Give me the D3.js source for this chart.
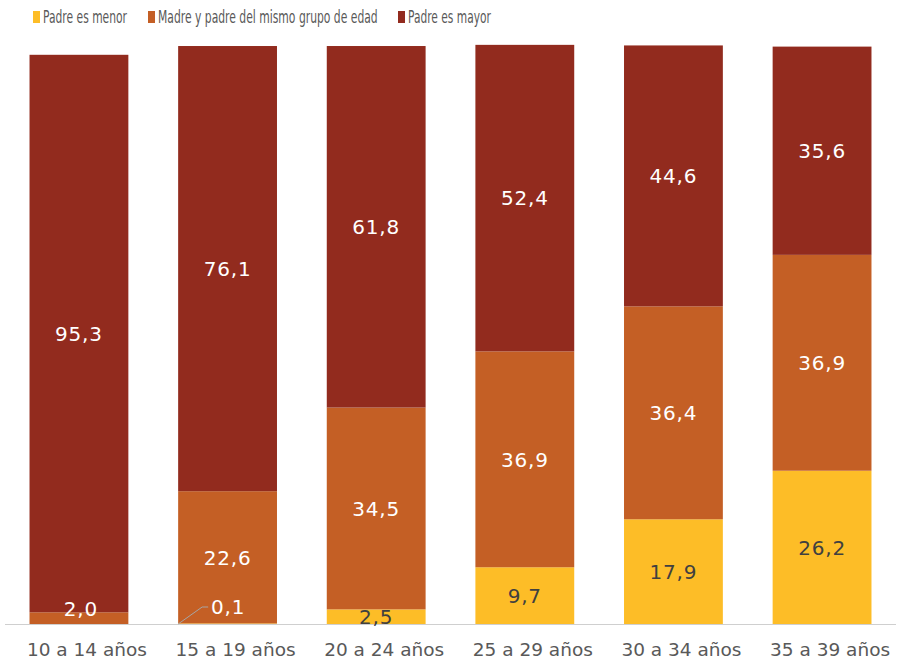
<!DOCTYPE html>
<html><head><meta charset="utf-8">
<script src="https://cdn.jsdelivr.net/npm/d3@7/dist/d3.min.js"></script>
<style>body{margin:0;background:#fff}svg{display:block}</style>
</head><body>
<svg id="c" width="898" height="662"></svg>
<script>
const categories = ["10 a 14 años","15 a 19 años","20 a 24 años","25 a 29 años","30 a 34 años","35 a 39 años"];
const seriesNames = ["Padre es menor","Madre y padre del mismo grupo de edad","Padre es mayor"];
const padreMenor = [0, 0.1, 2.5, 9.7, 17.9, 26.2];
const mismoGrupo = [2.0, 22.6, 34.5, 36.9, 36.4, 36.9];
const padreMayor = [95.3, 76.1, 61.8, 52.4, 44.6, 35.6];
const colors = ["#FDBD27", "#C45F25", "#922B1E"];
const labelColors = ["#404040", "#ffffff", "#ffffff"];

const FONT = "'DejaVu Sans', sans-serif";
const svg = d3.select("#c");
const x = d3.scaleBand().domain(categories).range([5, 896]).paddingInner(0.335).paddingOuter(0.165);
const y = d3.scaleLinear().domain([0, 100]).range([624, 39]);

const rows = categories.map((c, i) => ({cat: c, s0: padreMenor[i], s1: mismoGrupo[i], s2: padreMayor[i]}));
const stack = d3.stack().keys(["s0","s1","s2"])(rows);

const g = svg.append("g");
stack.forEach((layer, li) => {
  g.selectAll(null).data(layer).enter().append("rect")
    .attr("x", d => x(d.data.cat))
    .attr("width", x.bandwidth())
    .attr("y", d => y(d[1]))
    .attr("height", d => Math.max(0, y(d[0]) - y(d[1])))
    .attr("fill", colors[li]);
});

// axis line
svg.append("line").attr("x1", 5).attr("x2", 896).attr("y1", y(0)+0.5).attr("y2", y(0)+0.5)
  .attr("stroke", "#cfcfcf").attr("stroke-width", 1);

// category labels
const xAxis = svg.append("g").attr("transform", `translate(8,${y(0)})`)
  .call(d3.axisBottom(x).tickSize(0).tickPadding(19));
xAxis.select(".domain").remove();
xAxis.selectAll("text").attr("font-family", FONT).attr("font-size", 18.5).attr("fill", "#595959");

// data labels
const fmt = v => v.toFixed(1).replace(".", ",");
stack.forEach((layer, li) => {
  layer.forEach((d, i) => {
    const v = d.data["s" + li];
    if (v <= 0) return;
    let cx = x(d.data.cat) + x.bandwidth() / 2;
    let cy = (y(d[0]) + y(d[1])) / 2;
    let col = labelColors[li];
    if (li === 1 && i === 0) { cy = y(d[1]) - 4; cx += 2; }
    if (li === 0 && i === 1) {
      col = "#ffffff";
      const x0 = x(d.data.cat);
      const ly = y(0) - 17;
      svg.append("path")
        .attr("d", `M${x0},${y(0)}L${x0 + 24},${ly}L${x0 + 30},${ly}`)
        .attr("fill", "none").attr("stroke", "#a6a6a6").attr("stroke-width", 1);
      cx = x0 + 50; cy = ly;
    }
    svg.append("text").attr("x", cx).attr("y", cy).attr("dy", "0.36em")
      .attr("text-anchor", "middle").attr("font-family", FONT).attr("font-size", 20)
      .attr("letter-spacing", 0.8)
      .attr("fill", col).text(fmt(v));
  });
});

// legend
const legX = [33, 148, 398];
const legW = [84, 220, 83];
seriesNames.forEach((n, i) => {
  svg.append("rect").attr("x", legX[i]).attr("y", 11).attr("width", 7).attr("height", 12).attr("fill", colors[i]);
  const t = svg.append("text").attr("x", 0).attr("y", 0).attr("dy", "0.36em")
    .attr("font-family", FONT).attr("font-size", 17).attr("fill", "#595959").text(n);
  const w = t.node().getComputedTextLength();
  t.attr("transform", `translate(${legX[i] + 10},17) scale(${legW[i] / w},1)`);
});
</script>
</body></html>
